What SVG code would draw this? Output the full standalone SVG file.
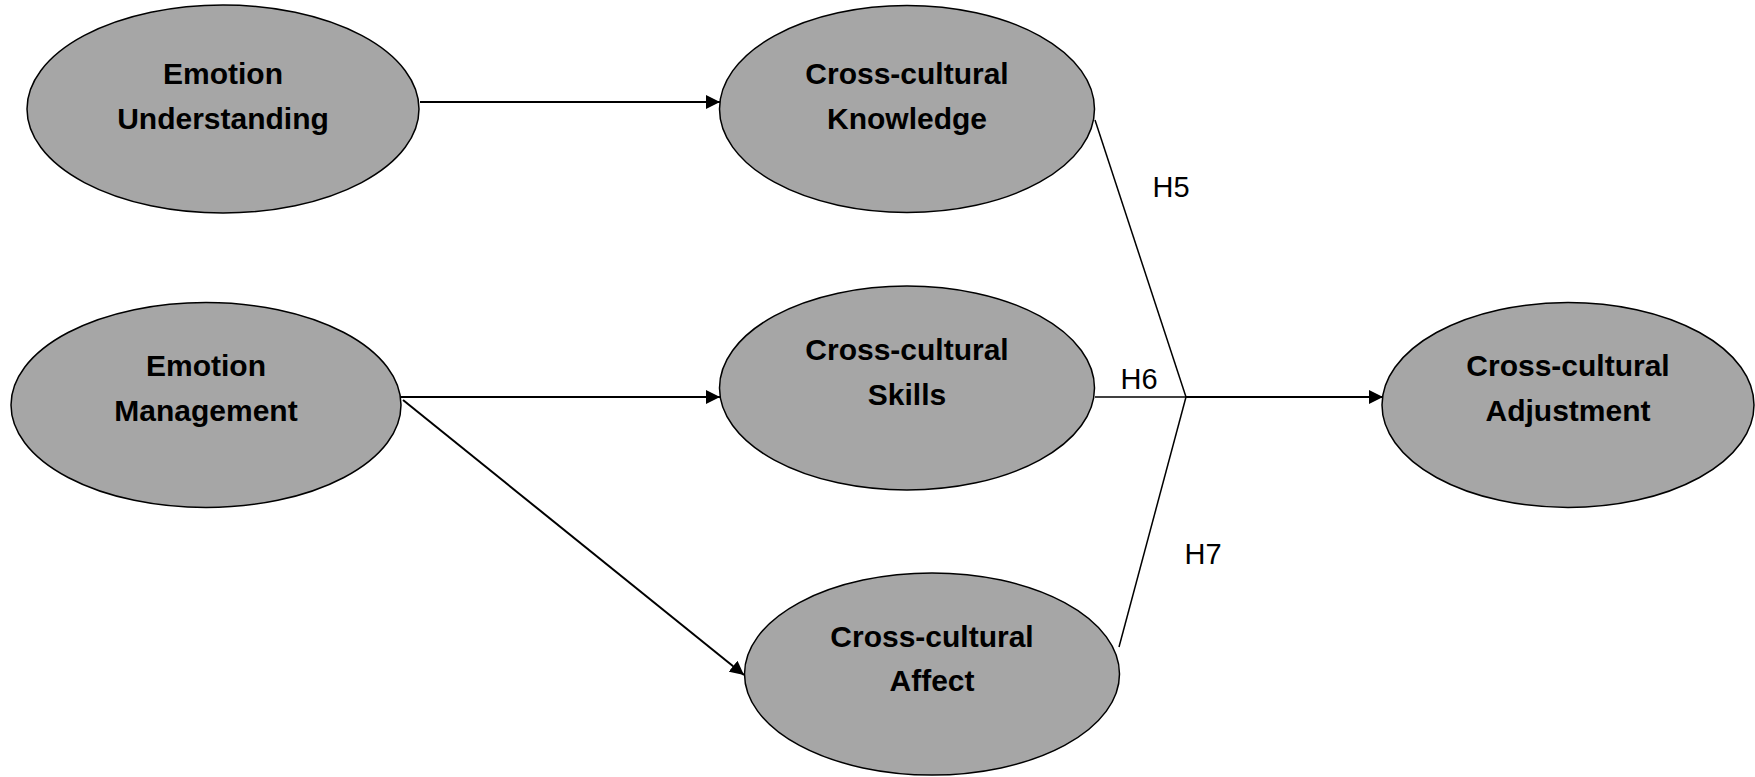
<svg xmlns="http://www.w3.org/2000/svg" width="1755" height="777" viewBox="0 0 1755 777">
<style>
.node ellipse{fill:#a6a6a6;stroke:#000;stroke-width:1.5}
.node text{font-family:"Liberation Sans",Arial,sans-serif;font-weight:bold;font-size:30px;text-anchor:middle;fill:#000}
.conn line{stroke:#000;stroke-width:2}
.conn line.h{stroke-width:1.5}
.lbl{font-family:"Liberation Sans",Arial,sans-serif;font-size:29px;fill:#000;text-anchor:middle}
</style>
<defs>
<marker id="arr" viewBox="0 0 10 10" refX="10" refY="5" markerWidth="7" markerHeight="7" orient="auto" markerUnits="strokeWidth">
<path d="M0,0 L10,5 L0,10 z" fill="#000"/>
</marker>
</defs>
<rect width="1755" height="777" fill="#fff"/>
<g class="conn">
<line x1="420" y1="102" x2="720" y2="102" marker-end="url(#arr)"/>
<line x1="401" y1="397" x2="720" y2="397" marker-end="url(#arr)"/>
<line x1="403" y1="400" x2="744" y2="675" marker-end="url(#arr)"/>
<line class="h" x1="1095" y1="120" x2="1186" y2="397"/>
<line class="h" x1="1095" y1="397" x2="1186" y2="397"/>
<line class="h" x1="1119" y1="647" x2="1186" y2="397"/>
<line x1="1186" y1="397" x2="1383" y2="397" marker-end="url(#arr)"/>
</g>
<g id="eu" class="node"><ellipse cx="223" cy="109" rx="196" ry="104"/><text x="223" y="84">Emotion</text><text x="223" y="129">Understanding</text></g>
<g id="ck" class="node"><ellipse cx="907" cy="109" rx="187.5" ry="103.5"/><text x="907" y="84">Cross-cultural</text><text x="907" y="129">Knowledge</text></g>
<g id="em" class="node"><ellipse cx="206" cy="405" rx="195" ry="102.5"/><text x="206" y="376">Emotion</text><text x="206" y="421">Management</text></g>
<g id="cs" class="node"><ellipse cx="907" cy="388" rx="187.5" ry="102"/><text x="907" y="360">Cross-cultural</text><text x="907" y="405">Skills</text></g>
<g id="ca" class="node"><ellipse cx="932" cy="674" rx="187.5" ry="101"/><text x="932" y="647">Cross-cultural</text><text x="932" y="691">Affect</text></g>
<g id="cadj" class="node"><ellipse cx="1568" cy="405" rx="186" ry="102.5"/><text x="1568" y="376">Cross-cultural</text><text x="1568" y="421">Adjustment</text></g>
<g id="labels">
<text class="lbl" x="1171" y="197">H5</text>
<text class="lbl" x="1139" y="389">H6</text>
<text class="lbl" x="1203" y="564">H7</text>
</g>
</svg>
